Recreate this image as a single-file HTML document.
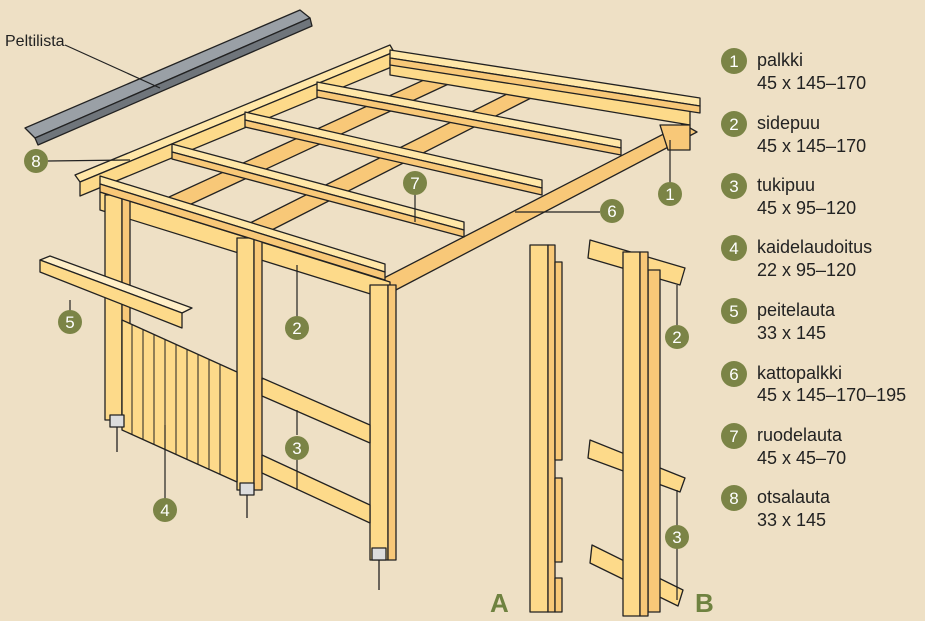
<!DOCTYPE html>
<html><head><meta charset="utf-8"><style>
html,body{margin:0;padding:0;background:#EEE0C5;}
svg{display:block}
text{font-family:"Liberation Sans",sans-serif;}
.l{font-size:18px;fill:#222}
.n{font-size:17px;fill:#fff;text-anchor:middle}
</style></head><body>
<svg width="925" height="621" viewBox="0 0 925 621" xmlns="http://www.w3.org/2000/svg">
<rect width="925" height="621" fill="#EEE0C5"/>
<g stroke="#222" stroke-width="1.3" stroke-linejoin="round">
<polygon points="25,128 300,10 310,18 35,138" fill="#9aa0a6"/>
<polygon points="35,138 310,18 312,26 38,145" fill="#6f757b"/>
<!-- rafters (6) -->
<polygon points="236,230 515,90 535,96 256,238" fill="#F8C878"/>
<polygon points="380,280 683,124 697,132 392,292" fill="#F8C878"/>
<polygon points="156,203 450,68 470,74 174,212" fill="#F8C878"/>
<!-- otsalauta 8 -->
<polygon points="75,175 390,45 394,52 80,182" fill="#FFE7A8"/>
<polygon points="80,182 394,52 394,66 80,196" fill="#FDDA8A"/>
<polygon points="390,60 690,110 690,125 390,75" fill="#FDDA8A"/>
<polygon points="660,125 690,125 690,150 668,150" fill="#F8C878"/>
<!-- side beam 2 -->
<polygon points="100,192 390,282 390,300 100,210" fill="#FDDA8A"/>
<!-- posts -->
<polygon points="105,195 122,195 122,420 105,420" fill="#FDDA8A"/>
<polygon points="122,195 130,195 130,420 122,420" fill="#F8C878"/>
<polygon points="237,238 254,238 254,490 237,490" fill="#FDDA8A"/>
<polygon points="254,238 262,238 262,490 254,490" fill="#F8C878"/>
<polygon points="370,285 388,285 388,560 370,560" fill="#FDDA8A"/>
<polygon points="388,285 396,285 396,560 388,560" fill="#F8C878"/>
<polygon points="262,378 370,425 370,443 262,396" fill="#FDDA8A"/>
<polygon points="262,455 370,505 370,523 262,473" fill="#FDDA8A"/>
<polygon points="122,320 237,372 237,482 122,430" fill="#FDDA8A"/>
<g stroke-width="1">
<line x1="132" y1="325" x2="132" y2="435"/><line x1="143" y1="330" x2="143" y2="440"/>
<line x1="154" y1="335" x2="154" y2="445"/><line x1="165" y1="340" x2="165" y2="450"/>
<line x1="176" y1="345" x2="176" y2="455"/><line x1="187" y1="350" x2="187" y2="460"/>
<line x1="198" y1="355" x2="198" y2="465"/><line x1="209" y1="360" x2="209" y2="470"/>
<line x1="220" y1="364" x2="220" y2="474"/>
</g>
<polygon points="40,260 50,256 192,308 182,313" fill="#FFEFC8"/>
<polygon points="40,260 182,313 182,328 40,272" fill="#FDDA8A"/>
<!-- battens 7 -->
<polygon points="100,176 385,264 385,272 100,184" fill="#FFE7A8"/>
<polygon points="100,184 385,272 385,280 100,192" fill="#F8C878"/>
<polygon points="172,144 464,222 464,230 172,152" fill="#FFE7A8"/>
<polygon points="172,152 464,230 464,237 172,159" fill="#F8C878"/>
<polygon points="245,112 542,180 542,188 245,120" fill="#FFE7A8"/>
<polygon points="245,120 542,188 542,195 245,127" fill="#F8C878"/>
<polygon points="317,82 621,140 621,148 317,90" fill="#FFE7A8"/>
<polygon points="317,90 621,148 621,155 317,97" fill="#F8C878"/>
<polygon points="390,50 700,98 700,106 390,58" fill="#FFE7A8"/>
<polygon points="390,58 700,106 700,113 390,65" fill="#F8C878"/>
<rect x="110" y="415" width="14" height="12" fill="#ddd"/>
<rect x="240" y="483" width="14" height="12" fill="#ddd"/>
<rect x="372" y="548" width="14" height="12" fill="#ddd"/>
<line x1="117" y1="427" x2="117" y2="452"/><line x1="247" y1="495" x2="247" y2="518"/><line x1="379" y1="560" x2="379" y2="590"/>
<!-- detail A -->
<polygon points="530,245 548,245 548,612 530,612" fill="#FDDA8A"/>
<polygon points="548,245 555,245 555,612 548,612" fill="#F8C878"/>
<polygon points="555,262 562,262 562,460 555,460" fill="#F8C878"/>
<polygon points="555,478 562,478 562,562 555,562" fill="#F8C878"/>
<polygon points="555,578 562,578 562,612 555,612" fill="#F8C878"/>
<!-- detail B -->
<polygon points="590,240 685,268 680,285 588,258" fill="#FDDA8A"/>
<polygon points="590,440 685,478 680,492 588,458" fill="#FDDA8A"/>
<polygon points="592,545 683,590 678,606 590,563" fill="#FDDA8A"/>
<polygon points="648,270 660,270 660,612 648,612" fill="#F8C878"/>
<polygon points="623,252 640,252 640,616 623,616" fill="#FDDA8A"/>
<polygon points="640,252 648,252 648,616 640,616" fill="#F8C878"/>
</g>
<g stroke="#222" stroke-width="1.2">
<line x1="65" y1="45" x2="160" y2="88"/>
<line x1="48" y1="161" x2="130" y2="160"/>
<line x1="670" y1="140" x2="670" y2="183"/>
<line x1="415" y1="190" x2="415" y2="222"/>
<line x1="515" y1="212" x2="600" y2="212"/>
<line x1="297" y1="265" x2="297" y2="320"/>
<line x1="70" y1="300" x2="70" y2="322"/>
<line x1="297" y1="410" x2="297" y2="435"/><line x1="297" y1="460" x2="297" y2="490"/>
<line x1="165" y1="425" x2="165" y2="500"/>
<line x1="677" y1="285" x2="677" y2="325"/>
<line x1="677" y1="490" x2="677" y2="600"/>
</g>
<text x="5" y="46" class="l" style="font-size:16px">Peltilista</text>
<g fill="#7B8446">
<circle cx="36" cy="161" r="12"/><circle cx="670" cy="194" r="12"/><circle cx="415" cy="183" r="12"/>
<circle cx="612" cy="211" r="12"/><circle cx="297" cy="328" r="12"/><circle cx="70" cy="322" r="12"/>
<circle cx="297" cy="448" r="12"/><circle cx="165" cy="510" r="12"/><circle cx="677" cy="337" r="12"/><circle cx="677" cy="537" r="12"/>
</g>
<text x="36" y="167" class="n">8</text><text x="670" y="200" class="n">1</text><text x="415" y="189" class="n">7</text>
<text x="612" y="217" class="n">6</text><text x="297" y="334" class="n">2</text><text x="70" y="328" class="n">5</text>
<text x="297" y="454" class="n">3</text><text x="165" y="516" class="n">4</text><text x="677" y="343" class="n">2</text><text x="677" y="543" class="n">3</text>
<text x="490" y="612" style="font-size:26px;font-weight:bold;fill:#6F8240">A</text>
<text x="695" y="612" style="font-size:26px;font-weight:bold;fill:#6F8240">B</text>
<g fill="#7B8446">
<circle cx="734" cy="61" r="13"/><circle cx="734" cy="124" r="13"/><circle cx="734" cy="186" r="13"/><circle cx="734" cy="248" r="13"/>
<circle cx="734" cy="311" r="13"/><circle cx="734" cy="374" r="13"/><circle cx="734" cy="436" r="13"/><circle cx="734" cy="498" r="13"/>
</g>
<text x="734" y="67" class="n">1</text><text x="734" y="130" class="n">2</text><text x="734" y="192" class="n">3</text><text x="734" y="254" class="n">4</text>
<text x="734" y="317" class="n">5</text><text x="734" y="380" class="n">6</text><text x="734" y="442" class="n">7</text><text x="734" y="504" class="n">8</text>
<text x="757" y="66" class="l">palkki</text><text x="757" y="89" class="l">45 x 145–170</text>
<text x="757" y="129" class="l">sidepuu</text><text x="757" y="152" class="l">45 x 145–170</text>
<text x="757" y="191" class="l">tukipuu</text><text x="757" y="214" class="l">45 x 95–120</text>
<text x="757" y="253" class="l">kaidelaudoitus</text><text x="757" y="276" class="l">22 x 95–120</text>
<text x="757" y="316" class="l">peitelauta</text><text x="757" y="339" class="l">33 x 145</text>
<text x="757" y="379" class="l">kattopalkki</text><text x="757" y="401" class="l">45 x 145–170–195</text>
<text x="757" y="441" class="l">ruodelauta</text><text x="757" y="464" class="l">45 x 45–70</text>
<text x="757" y="503" class="l">otsalauta</text><text x="757" y="526" class="l">33 x 145</text>
</svg>
</body></html>
